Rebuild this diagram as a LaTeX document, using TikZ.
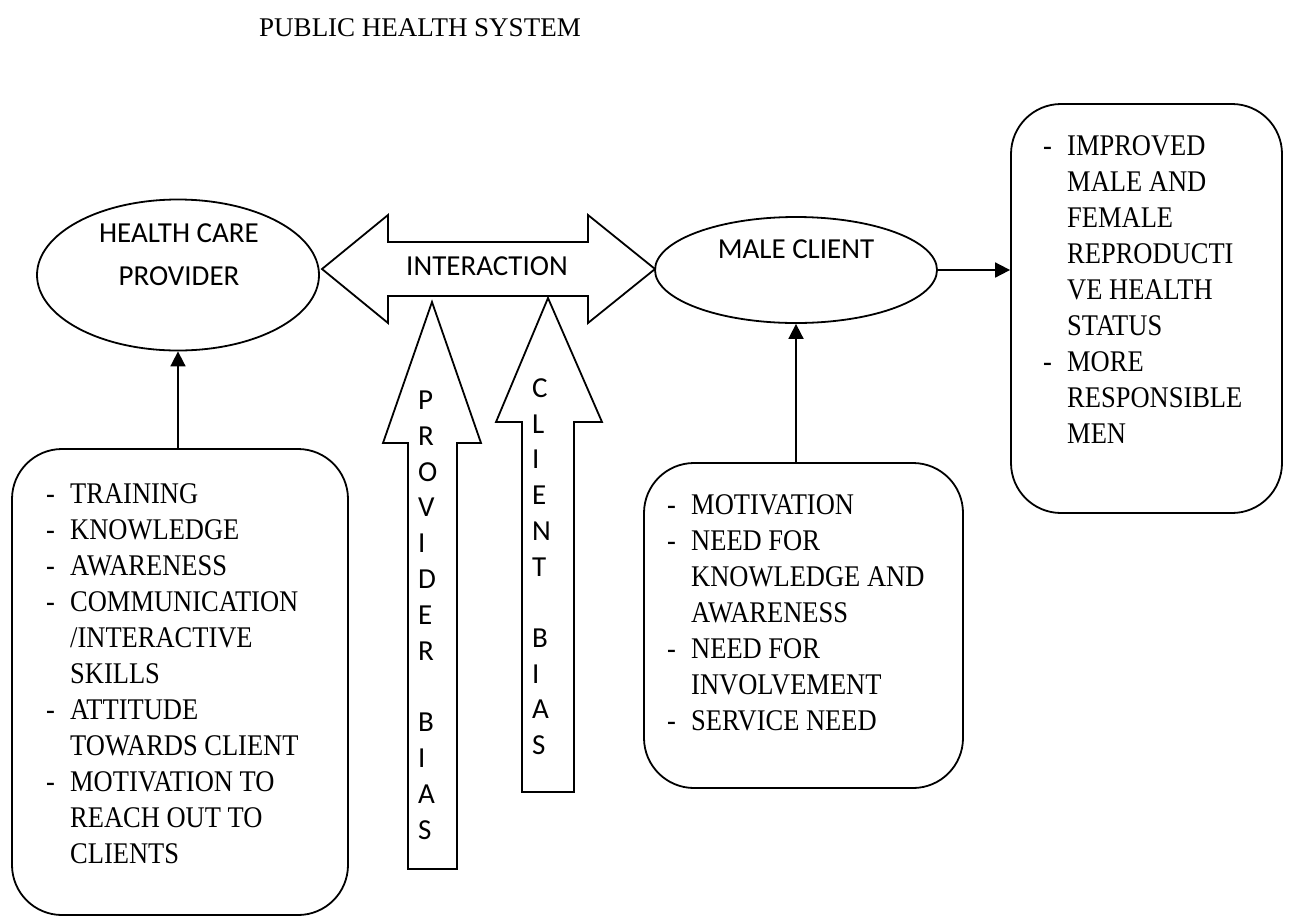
\documentclass[tikz,border=0pt]{standalone}
\usepackage{fontspec}
\setmainfont{Liberation Serif}
\newfontfamily\listfont[FakeStretch=0.883]{Liberation Serif}
\newfontfamily\labelfont{Carlito}
\usetikzlibrary{shapes.geometric,arrows.meta}

% one list entry with a leading dash, and a continuation line
\newcommand\dashline[1]{\makebox[24pt][l]{-}#1}
\newcommand\contline[1]{\hspace*{24pt}#1}

\begin{document}
\begin{tikzpicture}[x=1pt,y=-1pt,
  outline/.style={draw=black,line width=1.8pt,line join=miter},
  oval/.style={outline,ellipse,inner sep=0pt},
  roundbox/.style={outline,rectangle,rounded corners=50pt,inner sep=0pt},
  conn/.style={draw=black,line width=1.8pt,-{Triangle[width=15pt,length=15pt]}},
  sanslbl/.style={inner sep=0pt,anchor=base,font=\labelfont\fontsize{29}{35}\selectfont},
  letter/.style={inner sep=0pt,anchor=base west,font=\labelfont\fontsize{29}{35}\selectfont},
  listtext/.style={inner sep=0pt,anchor=base west,font=\listfont\fontsize{30}{36}\selectfont},
]
\useasboundingbox (0,0) rectangle (1289,916);

% title
\node[anchor=base,inner sep=0pt,font=\fontsize{27}{32}\selectfont] (title) at (420,36) {PUBLIC HEALTH SYSTEM};

% the two actors
\node[oval,minimum width=282pt,minimum height=151pt] (hcp) at (178,275) {};
\node[sanslbl] (hcpa) at (179,242) {HEALTH CARE};
\node[sanslbl] (hcpb) at (179,285) {PROVIDER};

\node[oval,minimum width=282pt,minimum height=106pt] (mc) at (796,270) {};
\node[sanslbl] (mctxt) at (796,258) {MALE CLIENT};

% double-headed interaction arrow
\draw[outline] (322,269) -- (388,215) -- (388,242) -- (588,242) -- (588,215) -- (655,269)
  -- (588,323) -- (588,296) -- (388,296) -- (388,323) -- cycle;
\node[sanslbl] (inter) at (487,275) {INTERACTION};

% bias block arrows
\draw[outline] (432,302) -- (481,443) -- (457,443) -- (457,869) -- (408,869) -- (408,443) -- (383,443) -- cycle;
\draw[outline] (548,298) -- (602,422) -- (574,422) -- (574,792) -- (522,792) -- (522,422) -- (496,422) -- cycle;

\foreach \i/\ch in {0/P,1/R,2/O,3/V,4/I,5/D,6/E,7/R,9/B,10/I,11/A,12/S}
  \node[letter] (pb\i) at (418,409.5+35.8*\i) {\ch};
\foreach \i/\ch in {0/C,1/L,2/I,3/E,4/N,5/T,7/B,8/I,9/A,10/S}
  \node[letter] (cb\i) at (532,397.5+35.7*\i) {\ch};

% factor boxes
\node[roundbox,minimum width=336pt,minimum height=466pt] (provbox) at (180,682) {};
\node[listtext] (provlist) at (46,503) {\begin{tabular}[t]{@{}l@{}}
\dashline{TRAINING}\\
\dashline{KNOWLEDGE}\\
\dashline{AWARENESS}\\
\dashline{COMMUNICATION}\\
\contline{/INTERACTIVE}\\
\contline{SKILLS}\\
\dashline{ATTITUDE}\\
\contline{TOWARDS CLIENT}\\
\dashline{MOTIVATION TO}\\
\contline{REACH OUT TO}\\
\contline{CLIENTS}
\end{tabular}};

\node[roundbox,minimum width=319pt,minimum height=325pt] (clbox) at (803.5,625.5) {};
\node[listtext] (cllist) at (667,514) {\begin{tabular}[t]{@{}l@{}}
\dashline{MOTIVATION}\\
\dashline{NEED FOR}\\
\contline{KNOWLEDGE AND}\\
\contline{AWARENESS}\\
\dashline{NEED FOR}\\
\contline{INVOLVEMENT}\\
\dashline{SERVICE NEED}
\end{tabular}};

\node[roundbox,minimum width=271pt,minimum height=409pt] (outbox) at (1146.5,308.5) {};
\node[listtext] (outlist) at (1043,155) {\begin{tabular}[t]{@{}l@{}}
\dashline{IMPROVED}\\
\contline{MALE AND}\\
\contline{FEMALE}\\
\contline{REPRODUCTI}\\
\contline{VE HEALTH}\\
\contline{STATUS}\\
\dashline{MORE}\\
\contline{RESPONSIBLE}\\
\contline{MEN}
\end{tabular}};

% connectors
\draw[conn] (hcp.south |- provbox.north) -- (hcp.south);
\draw[conn] (mc.south |- clbox.north) -- (mc.south);
\draw[conn] (mc.east) -- (outbox.west |- mc.east);
\end{tikzpicture}
\end{document}
